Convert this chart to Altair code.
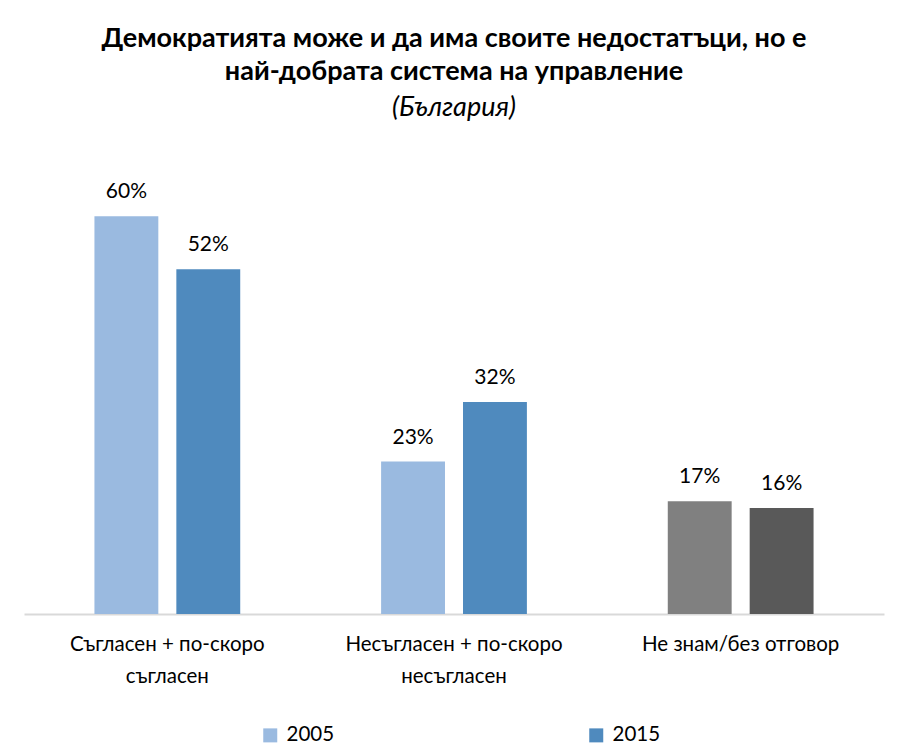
import altair as alt
import pandas as pd

categories = [
    "Съгласен + по-скоро съгласен",
    "Несъгласен + по-скоро несъгласен",
    "Не знам/без отговор",
]
label_lines = [
    ["Съгласен + по-скоро", "съгласен"],
    ["Несъгласен + по-скоро", "несъгласен"],
    ["Не знам/без отговор"],
]
years = ["2005", "2015"]
values_2005 = [60, 23, 17]
values_2015 = [52, 32, 16]

FONT = "Lato"

rows = []
for i, cat in enumerate(categories):
    for year, vals in zip(years, [values_2005, values_2015]):
        shade = year + "g" if i == 2 else year
        rows.append({"category": cat, "year": year, "value": vals[i], "shade": shade,
                     "label": f"{vals[i]}%"})
df = pd.DataFrame(rows)

label_expr = " : ".join(
    f"datum.label == '{cat}' ? {lines!r}" for cat, lines in zip(categories, label_lines)
) + " : datum.label"

color_scale = alt.Scale(
    domain=["2005", "2015", "2005g", "2015g"],
    range=["#9ABAE0", "#4F8ABE", "#808080", "#595959"],
)

x = alt.X(
    "category:N", sort=categories, title=None,
    scale=alt.Scale(paddingInner=0, paddingOuter=0),
    axis=alt.Axis(
        labelExpr=label_expr, labelFont=FONT, labelFontSize=20.5, labelColor="#000000",
        labelLineHeight=32, labelPadding=20, labelAngle=0, ticks=False,
        domainColor="#D9D9D9", domainWidth=2, labelLimit=400,
    ),
)
x_off = alt.XOffset("year:N", scale=alt.Scale(paddingInner=0.22, paddingOuter=0.86))
y = alt.Y("value:Q", scale=alt.Scale(domain=[0, 70]), axis=None)

bars = alt.Chart(df).mark_bar().encode(
    x=x, xOffset=x_off, y=y,
    color=alt.Color(
        "shade:N", scale=color_scale,
        legend=alt.Legend(
            values=["2005", "2015"], title=None, orient="none", direction="horizontal",
            legendX=236, legendY=575, columns=2, columnPadding=251,
            symbolType="square", symbolSize=196, symbolStrokeWidth=0,
            labelFont=FONT, labelFontSize=20.5, labelColor="#000000", labelOffset=6,
            padding=0,
        ),
    ),
)

labels = alt.Chart(df).mark_text(
    baseline="bottom", dy=-14, font=FONT, fontSize=21, color="#000000"
).encode(x=x, xOffset=x_off, y=y, text="label:N")

chart = (
    alt.layer(bars, labels)
    .properties(
        width=860,
        height=464,
        autosize=alt.AutoSizeParams(type="none"),
        padding={"left": 16, "top": 142, "right": 16, "bottom": 130},
        title=alt.Title(
            text=[
                "Демократията може и да има своите недостатъци, но е",
                "най-добрата система на управление",
            ],
            subtitle="(България)",
            font=FONT, fontSize=27, fontWeight="bold", color="#000000",
            lineHeight=33, anchor="middle",
            subtitleFont=FONT, subtitleFontSize=27, subtitleFontStyle="italic",
            subtitleColor="#000000", subtitlePadding=9, offset=28,
        ),
    )
    .configure_view(stroke=None)
)

chart.save("out.html", embed_options={"renderer": "svg", "actions": False})
